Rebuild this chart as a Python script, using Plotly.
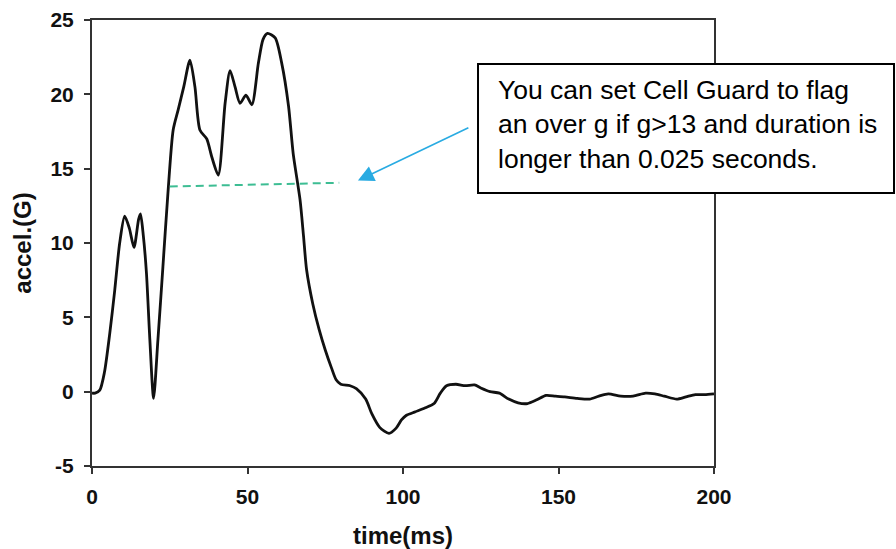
import plotly.graph_objects as go

# Acceleration trace (time in ms, acceleration in G)
time_ms = [0, 1, 2.5, 4, 5.7, 7.3, 8.9, 10.5, 12, 13.5, 15, 15.6, 16.5, 17.5, 18.6,
           19.8, 21.2, 22.8, 24.4, 26.1, 27.7, 29.5, 31.5, 33.1, 34.7, 36.9, 38.5, 40.6,
           42.8, 44.4, 46, 47.6, 49.5, 51.4, 53.5, 55, 56.4, 58.9, 61, 63.2, 64.7, 66.9,
           68, 69, 71, 73, 75, 77, 78.5, 80, 83, 85, 88, 90, 92.5, 95.5, 97.8, 99.5, 101,
           104, 107, 110, 112, 114, 117, 120, 123, 125, 128, 131, 134, 137, 140, 143, 146,
           149, 152, 156, 160, 163, 166, 170, 174, 178, 181, 184, 188, 191, 194, 197, 200]
accel_g = [-0.1, -0.1, 0.1, 1.3, 3.9, 6.8, 10.0, 11.8, 11.0, 9.7, 11.6, 11.95, 10.5, 8.0, 3.5,
           -0.45, 3.5, 8.4, 13.3, 17.6, 18.95, 20.5, 22.3, 20.5, 17.6, 17.0, 15.8, 14.57,
           19.4, 21.6, 20.5, 19.4, 19.95, 19.3, 22.1, 23.7, 24.1, 23.8, 22.1, 19.2, 16.0, 12.9,
           10.5, 8.2, 5.9, 4.2, 2.8, 1.6, 0.8, 0.5, 0.4, 0.2, -0.5, -1.5, -2.4, -2.8, -2.45, -1.9, -1.6,
           -1.35, -1.1, -0.8, -0.1, 0.4, 0.5, 0.4, 0.45, 0.25, 0.0, -0.1, -0.5, -0.75, -0.8, -0.55, -0.25,
           -0.3, -0.35, -0.45, -0.5, -0.3, -0.15, -0.3, -0.3, -0.1, -0.15, -0.3, -0.5, -0.35, -0.2, -0.2, -0.15]

# Threshold (dashed) segment
threshold_t = [25.0, 79.5]
threshold_g = [13.8, 14.05]

# Arrow (tip and tail in data units)
arrow_tip = (85.5, 14.2)
arrow_tail = (121.5, 17.8)

x_ticks = [0, 50, 100, 150, 200]
y_ticks = [-5, 0, 5, 10, 15, 20, 25]

note_text = ("You can set Cell Guard to flag<br>"
             "an over g if g>13 and duration is<br>"
             "longer than 0.025 seconds.")

FONT = "Liberation Sans, Arial, sans-serif"

fig = go.Figure()
fig.add_trace(go.Scatter(
    x=time_ms, y=accel_g, mode="lines",
    line=dict(color="#111111", width=2.8, shape="spline", smoothing=0.7),
    showlegend=False, hoverinfo="skip"))
fig.add_trace(go.Scatter(
    x=threshold_t, y=threshold_g, mode="lines",
    line=dict(color="#3dbd93", width=2, dash="8px,5px"),
    showlegend=False, hoverinfo="skip"))

fig.add_annotation(
    x=arrow_tip[0], y=arrow_tip[1], ax=arrow_tail[0], ay=arrow_tail[1],
    xref="x", yref="y", axref="x", ayref="y",
    text="", showarrow=True, arrowhead=2, arrowsize=2.0, arrowwidth=1.6,
    arrowcolor="#29abe2")

# Note box (white rectangle with black border) and its text
fig.add_shape(
    type="rect", xref="paper", yref="paper",
    x0=0.6206, x1=1.2894, y0=0.6121, y1=0.9013,
    fillcolor="white", line=dict(color="#000000", width=2), layer="above")
fig.add_annotation(
    x=0.6511, y=0.7646, xref="paper", yref="paper",
    xanchor="left", yanchor="middle", showarrow=False,
    text=note_text, align="left",
    font=dict(family=FONT, size=26.5, color="#000000"),
    borderpad=0)

axis_common = dict(
    showline=True, linecolor="#333333", linewidth=2, mirror=True,
    ticks="outside", ticklen=6, tickwidth=1.5, tickcolor="#333333",
    showgrid=False, zeroline=False, automargin=False,
    tickfont=dict(family=FONT, size=21, color="#111111", weight="bold"),
)

fig.update_xaxes(
    range=[0, 200], tickvals=x_ticks, ticktext=[str(v) for v in x_ticks],
    title=dict(text="time(ms)", font=dict(family=FONT, size=24, color="#111111", weight="bold"),
               standoff=25),
    ticklabelstandoff=5,
    **axis_common)
fig.update_yaxes(
    range=[-5, 25], tickvals=y_ticks, ticktext=[str(v) for v in y_ticks],
    title=dict(text="accel.(G)", font=dict(family=FONT, size=24, color="#111111", weight="bold"),
               standoff=12),
    ticklabelstandoff=6,
    **axis_common)

fig.update_layout(
    width=896, height=549,
    margin=dict(l=92, r=182, t=20, b=83),
    paper_bgcolor="white", plot_bgcolor="white",
)

# remove the browser's default 8px body margin so the figure fills the window exactly
fig.write_html(
    "out.html",
    config={"displayModeBar": False},
    post_script="document.body.style.margin='0';document.body.style.overflow='hidden';",
)
